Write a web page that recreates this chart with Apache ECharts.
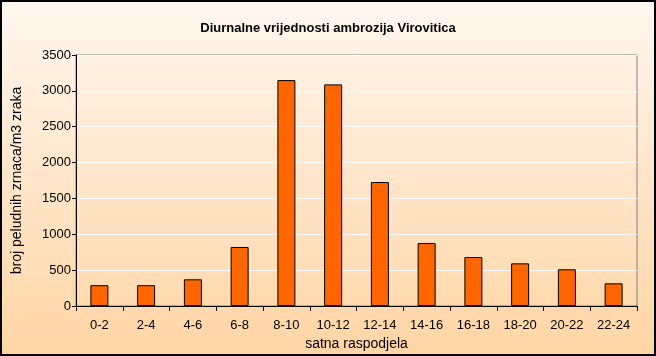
<!DOCTYPE html>
<html><head><meta charset="utf-8">
<script src="https://cdn.jsdelivr.net/npm/echarts@6/dist/echarts.min.js"></script>
<style>html,body{margin:0;padding:0;}#c{width:656px;height:356px;}</style>
</head><body><div id="c"></div>
<script>
const titleText = 'Diurnalne vrijednosti ambrozija Virovitica';
const categories = ['0-2','2-4','4-6','6-8','8-10','10-12','12-14','14-16','16-18','18-20','20-22','22-24'];
const values = [290, 290, 372, 823, 3150, 3090, 1729, 878, 683, 595, 512, 316];
const yName = 'broj peludnih zrnaca/m3 zraka';
const xName = 'satna raspodjela';

const chart = echarts.init(document.getElementById('c'), null, {renderer:'canvas'});
const font = 'Liberation Sans, Arial, sans-serif';
chart.setOption({
  animation:false,
  backgroundColor: new echarts.graphic.LinearGradient(0,0,0,1,[{offset:0,color:'#FFF7F0'},{offset:1,color:'#FFD5A4'}]),
  title:{text:titleText,left:'center',top:17,textStyle:{fontFamily:font,fontSize:13,fontWeight:'bold',color:'#000'}},
  grid:{left:76,right:19,top:55,bottom:50,show:true,borderColor:'#808080',borderWidth:1,backgroundColor:'transparent'},
  xAxis:{type:'category',data:categories,
    axisLine:{lineStyle:{color:'#000',width:1}},
    axisTick:{show:true,inside:false,length:5,lineStyle:{color:'#000'}},
    axisLabel:{color:'#000',fontFamily:font,fontSize:13,margin:13},
    name:xName,nameLocation:'middle',nameGap:26,
    nameTextStyle:{color:'#000',fontFamily:font,fontSize:14}},
  yAxis:{type:'value',min:0,max:3500,interval:500,
    axisLine:{show:true,lineStyle:{color:'#000',width:1}},
    axisTick:{show:true,inside:false,length:4,lineStyle:{color:'#000'}},
    axisLabel:{color:'#000',fontFamily:font,fontSize:13,margin:5,formatter:function(v){return String(v);}},
    splitLine:{show:true,lineStyle:{color:'#FFFFFF',width:1}},
    name:yName,nameLocation:'middle',nameGap:52,
    nameTextStyle:{color:'#000',fontFamily:font,fontSize:14}},
  series:[{type:'bar',data:values,barWidth:18,
    itemStyle:{color:'#FF6600',borderColor:'#000',borderWidth:1}}],
  graphic:[{type:'rect',shape:{x:1,y:1,width:654,height:354},style:{fill:'none',stroke:'#000',lineWidth:2},z:100}]
});
</script></body></html>
